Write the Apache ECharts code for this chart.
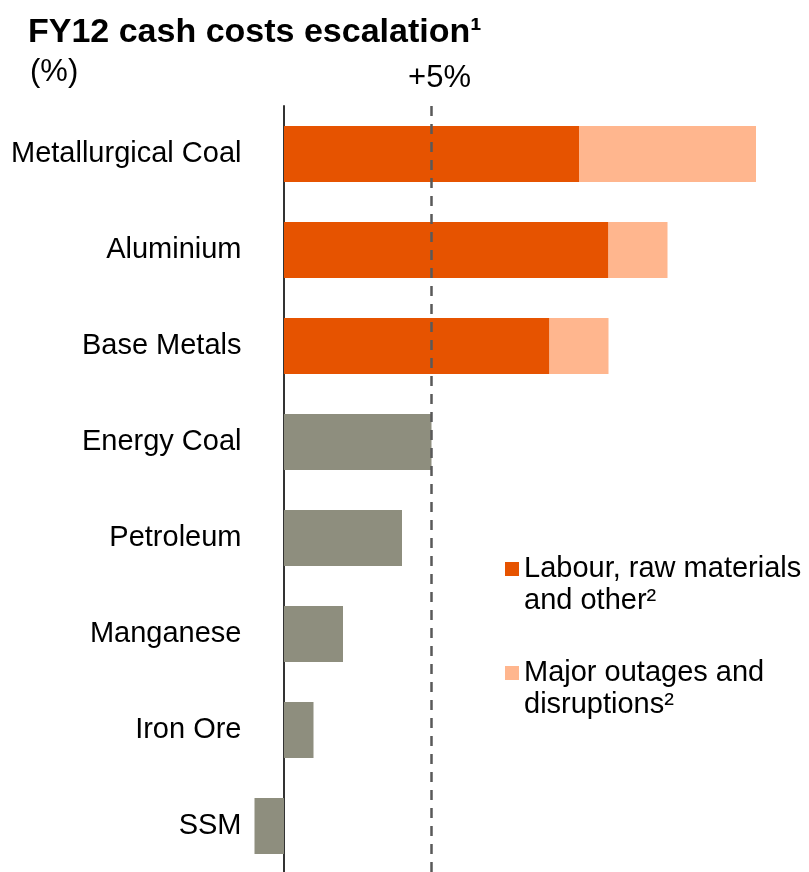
<!DOCTYPE html>
<html>
<head>
<meta charset="utf-8">
<script src="https://cdn.jsdelivr.net/npm/echarts@6/dist/echarts.min.js"></script>
<style>
html,body{margin:0;padding:0;background:#fff;}
#chart{width:809px;height:872px;}
</style>
</head>
<body>
<div id="chart"></div>
<script>
var categories = ['Metallurgical Coal','Aluminium','Base Metals','Energy Coal','Petroleum','Manganese','Iron Ore','SSM'];
var labourValues = [10, 11, 9, null, null, null, null, null];
var outageValues = [6, 2, 2, null, null, null, null, null];
var otherValues = [null, null, null, 5, 4, 2, 1, -1];
var seriesNames = ['Labour, raw materials\nand other²', 'Major outages and\ndisruptions²', 'Other'];
var referenceValue = 5;
var referenceLabel = '+5%';

var FONT = 'Liberation Sans, Arial, sans-serif';
var chart = echarts.init(document.getElementById('chart'), null, {renderer:'canvas'});
var option = {
  animation: false,
  backgroundColor: '#fff',
  textStyle: {fontFamily: FONT},
  title: [
    {text: 'FY12 cash costs escalation¹', left: 28, top: 16, padding: 0,
     textStyle: {fontFamily: FONT, fontSize: 34, fontWeight: 'bold', color: '#000'}},
    {text: '(%)', left: 30, top: 57, padding: 0,
     textStyle: {fontFamily: FONT, fontSize: 31, fontWeight: 'normal', color: '#000'}}
  ],
  legend: {
    orient: 'vertical',
    left: 505,
    top: 553,
    padding: 0,
    itemGap: 40,
    itemWidth: 14,
    itemHeight: 46,
    icon: 'path://M0,0L14,0L14,14L0,14Z M0,46L14,46',
    selectedMode: false,
    data: [seriesNames[0], seriesNames[1]],
    textStyle: {fontFamily: FONT, fontSize: 29, color: '#000', lineHeight: 32}
  },
  grid: {left: 254.5, top: 106, width: 531, height: 768, containLabel: false, outerBoundsMode: 'none'},
  xAxis: {
    type: 'value', min: -1, max: 17,
    show: false
  },
  yAxis: {
    type: 'category',
    data: categories,
    inverse: true,
    axisLine: {show: true, onZero: true, lineStyle: {color: '#333', width: 2}},
    axisTick: {show: false},
    axisLabel: {margin: 13, fontFamily: FONT, fontSize: 29, color: '#000'},
    splitLine: {show: false}
  },
  series: [
    {name: seriesNames[0], type: 'bar', stack: 'total', data: labourValues, barWidth: 56,
     itemStyle: {color: '#E65300'},
     markLine: {
       silent: true, symbol: ['none','none'],
       lineStyle: {color: '#595959', width: 2.5, type: [10,8]},
       label: {show: true, position: 'start', formatter: referenceLabel, fontFamily: FONT, fontSize: 31, color: '#000', distance: 12, padding: [0,0,0,16]},
       data: [{xAxis: referenceValue}]
     }},
    {name: seriesNames[1], type: 'bar', stack: 'total', data: outageValues, barWidth: 56,
     itemStyle: {color: '#FFB68E'}},
    {name: seriesNames[2], type: 'bar', stack: 'total', data: otherValues, barWidth: 56,
     itemStyle: {color: '#8E8E7E'}}
  ]
};
chart.setOption(option);
</script>
</body>
</html>
